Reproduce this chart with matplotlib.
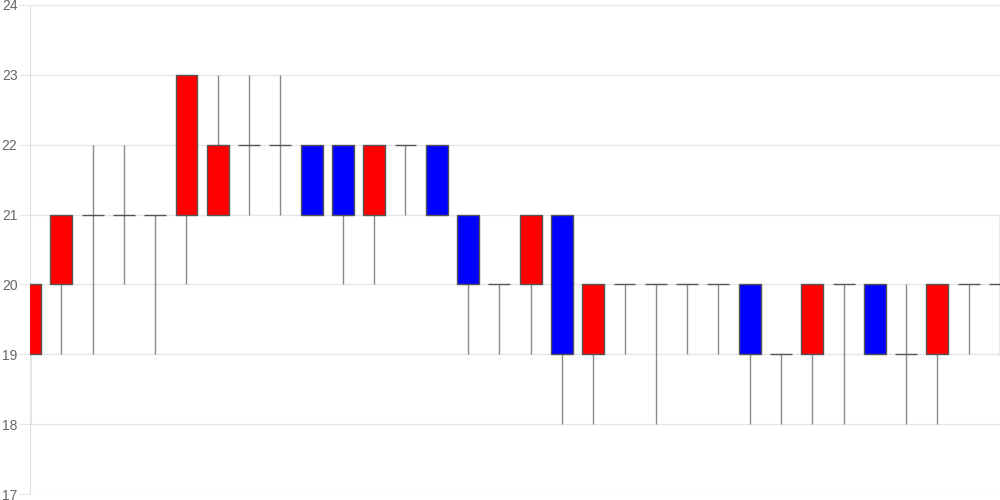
import matplotlib
matplotlib.use("Agg")
import matplotlib.pyplot as plt
import numpy as np

# OHLC per candle (red = close above open, blue = close below open)
opens = [19, 20, 21, 21, 21, 21, 21, 22, 22, 22, 22, 21, 22, 22, 21, 20,
         20, 21, 19, 20, 20, 20, 20, 20, 19, 19, 20, 20, 19, 19, 20, 20]
closes = [20, 21, 21, 21, 21, 23, 22, 22, 22, 21, 21, 22, 22, 21, 20, 20,
          21, 19, 20, 20, 20, 20, 20, 19, 19, 20, 20, 19, 19, 20, 20, 20]
highs = [20, 21, 22, 22, 21, 23, 23, 23, 23, 22, 22, 22, 22, 22, 21, 20,
         21, 21, 20, 20, 20, 20, 20, 20, 19, 20, 20, 20, 20, 20, 20, 21]
lows = [18, 19, 19, 20, 19, 20, 21, 21, 21, 21, 20, 20, 21, 21, 19, 19,
        19, 18, 18, 19, 18, 19, 19, 18, 18, 18, 18, 19, 18, 18, 19, 19]
y_ticks = [17, 18, 19, 20, 21, 22, 23, 24]

plt.rcParams['font.family'] = ['Liberation Sans', 'DejaVu Sans']

fig = plt.figure(figsize=(10, 5), dpi=100)
ax = fig.add_axes([0.03, 0.012, 0.97, 0.978])

x = np.arange(len(opens))
o = np.array(opens)
c = np.array(closes)
width = 0.7

ax.vlines(x, lows, highs, color='#8a8a8a', linewidth=1, zorder=2)

body = c != o
colors = np.where(c > o, 'red', 'blue')
ax.bar(x[body], (c - o)[body], bottom=o[body], width=width,
       color=colors[body], edgecolor='#555555', linewidth=1, zorder=3)

doji = ~body
ax.hlines(o[doji], x[doji] - width / 2, x[doji] + width / 2,
          color='#555555', linewidth=1, zorder=3)

ax.set_xlim(0, len(opens) - 1)
ax.set_ylim(17, 24)
ax.set_yticks(y_ticks)
ax.set_xticks([])
ax.grid(axis='y', color='#e6e6e6', linewidth=1, zorder=0)
ax.set_axisbelow(True)
for side in ['top', 'right', 'bottom']:
    ax.spines[side].set_visible(False)
ax.spines['left'].set_color('#e0e0e0')
ax.tick_params(axis='y', length=8, color='#e6e6e6', labelcolor='#666666',
               labelsize=10, pad=1)

fig.savefig('out.png', dpi=100)
